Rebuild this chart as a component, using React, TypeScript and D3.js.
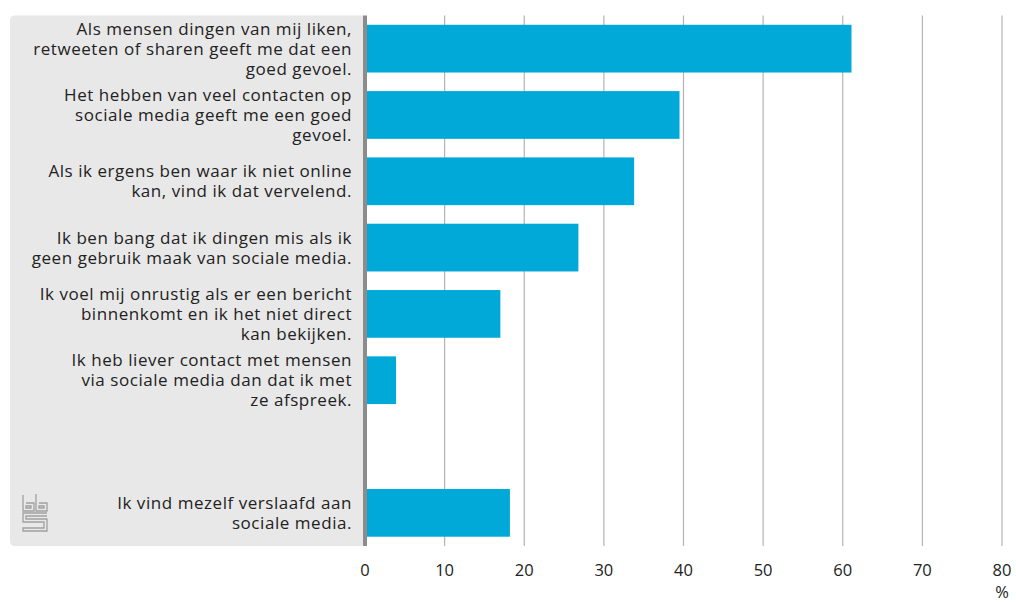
import * as d3 from "d3";

const categories: string[][] = [
  ["Als mensen dingen van mij liken,", "retweeten of sharen geeft me dat een", "goed gevoel."],
  ["Het hebben van veel contacten op", "sociale media geeft me een goed", "gevoel."],
  ["Als ik ergens ben waar ik niet online", "kan, vind ik dat vervelend."],
  ["Ik ben bang dat ik dingen mis als ik", "geen gebruik maak van sociale media."],
  ["Ik voel mij onrustig als er een bericht", "binnenkomt en ik het niet direct", "kan bekijken."],
  ["Ik heb liever contact met mensen", "via sociale media dan dat ik met", "ze afspreek."],
  [],
  ["Ik vind mezelf verslaafd aan", "sociale media."],
];
const values: (number | null)[] = [61.1, 39.5, 33.8, 26.8, 17.0, 3.9, null, 18.2];
const ticks = [0, 10, 20, 30, 40, 50, 60, 70, 80];

const W = 1016;
const H = 604;
const font = "'Open Sans', 'Noto Sans', sans-serif";

export default function App() {
  const x = d3.scaleLinear().domain([0, 80]).range([365, 1002]);
  const y = d3
    .scaleBand<number>()
    .domain(d3.range(categories.length))
    .range([15.5, 546])
    .paddingInner(0.28)
    .paddingOuter(0.14);
  const top = 15.5;
  const bottom = 546;
  const lineH = 20;

  return (
    <svg width={W} height={H} style={{ position: "absolute", left: 0, top: 0 }} fontFamily={font}>
      <rect width={W} height={H} fill="#fff" />
      {/* label panel */}
      <path
        d={`M${x(0)},${top} H15 Q10,${top} 10,${top + 5} V${bottom - 5} Q10,${bottom} 15,${bottom} H${x(0)} Z`}
        fill="#e8e8e8"
      />
      {/* grid */}
      {ticks.slice(1).map((t) => (
        <line key={t} x1={x(t)} x2={x(t)} y1={top} y2={bottom} stroke="#b4b4b4" strokeWidth={1.2} />
      ))}
      {/* bars */}
      {values.map((v, i) =>
        v == null ? null : (
          <rect key={i} x={x(0)} y={y(i)} width={x(v) - x(0)} height={y.bandwidth()} fill="#00a9d8" />
        )
      )}
      {/* axis line */}
      <line x1={x(0)} x2={x(0)} y1={top} y2={bottom} stroke="#8c8c8c" strokeWidth={4} />
      {/* category labels */}
      {categories.map((lines, i) => {
        const cy = (y(i) ?? 0) + y.bandwidth() / 2;
        const y0 = cy - ((lines.length - 1) * lineH) / 2;
        return (
          <text key={i} textAnchor="end" fontSize={17} letterSpacing={0.55} fill="#222">
            {lines.map((l, j) => (
              <tspan key={j} x={352} y={y0 + j * lineH} dy="0.35em">
                {l}
              </tspan>
            ))}
          </text>
        );
      })}
      {/* tick labels */}
      {ticks.map((t) => (
        <text key={t} x={x(t)} y={570} dy="0.35em" textAnchor="middle" fontSize={16.5} fill="#222">
          {t}
        </text>
      ))}
      <text x={1002} y={592} dy="0.35em" textAnchor="middle" fontSize={16.5} fill="#222">
        %
      </text>
      {/* cbs logo */}
      <g fill="none" stroke="#a0a0a0" strokeWidth={1.3}>
        <path d="M23,495 V511 H34 V503 H26" />
        <path d="M26,506 V508 H31 V506 Z" />
        <path d="M36,494 V511 H47 V503 H39" />
        <path d="M39,506 V508 H44 V506 Z" />
        <path d="M47,513 H23 V522 H44 V528 H23 V531 H47 V519 H26 V516 H47" />
      </g>
    </svg>
  );
}
